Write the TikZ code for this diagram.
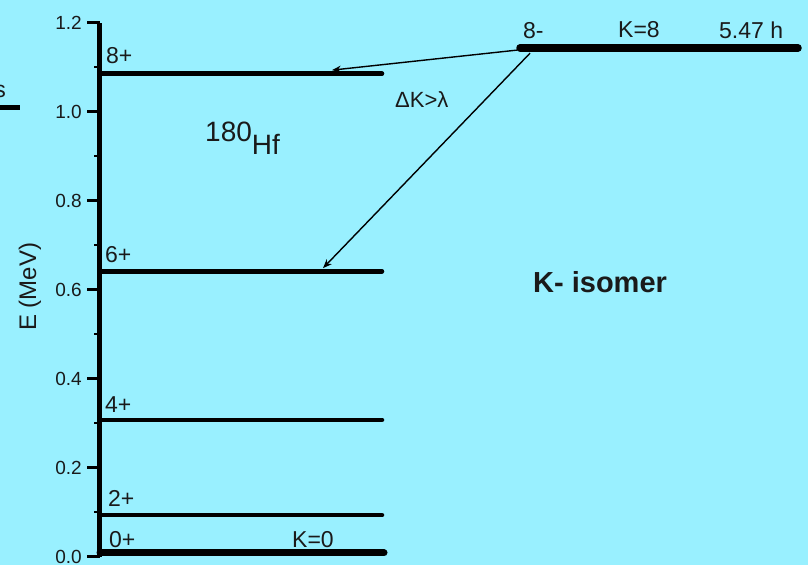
\documentclass[tikz,border=0pt]{standalone}
\usepackage{fontspec}
\setmainfont{Liberation Sans}
\usetikzlibrary{arrows.meta, positioning, calc}
\definecolor{hfSky}{HTML}{99F0FF}
\definecolor{hfInk}{HTML}{1A1A1A}
\newcommand{\fsz}[1]{\fontsize{#1}{#1}\selectfont}
\tikzset{
  level/.style={draw=black, line width=4.5pt, line cap=round},
  gslevel/.style={level, line width=7pt},
  isolevel/.style={level, line width=7.5pt},
  axisline/.style={draw=black, line width=4.5pt},
  majtick/.style={draw=black, line width=3pt},
  mintick/.style={draw=black, line width=2.5pt},
  ticklbl/.style={font=\fsz{19}, text=hfInk, anchor=east, inner sep=0pt},
  lvllbl/.style={font=\fsz{23}, text=hfInk, anchor=base west, inner sep=0pt},
  decay/.style={-{Stealth[length=9pt, width=7pt]}, line width=1.4pt, draw=black},
}
\begin{document}
\begin{tikzpicture}[x=1pt, y=445pt]
  \useasboundingbox (0,-0.0191) rectangle (808,1.2506);
  \clip (0,-0.0191) rectangle (808,1.2506);
  \fill[hfSky] (0,-0.0191) rectangle (808,1.2506);

  % energy axis
  \draw[axisline] (99.5,-0.001) -- (99.5,1.2);
  \foreach \e in {0.0,0.2,0.4,0.6,0.8,1.0,1.2} {
    \draw[majtick] (87,\e) -- (99.5,\e);
    \node[ticklbl] (t\e) at (82,\e) {\e};
  }
  \foreach \e in {0.1,0.3,0.5,0.7,0.9,1.1}
    \draw[mintick] (94,\e) -- (99.5,\e);
  \node[font=\fsz{24}, text=hfInk, rotate=90] (ylab) at (30,0.606) {E (MeV)};

  % cut-off piece at the left edge
  \draw[line width=5pt] (-5,1.0101) -- (20,1.0101);
  \node[lvllbl, anchor=base east] (cut) at (6,1.0326) {s};

  % ground band of 180Hf
  \draw[gslevel] (100,0.008) -- (384,0.008);
  \draw[level] (100,0.093) -- (382,0.093);
  \draw[level] (100,0.307) -- (382,0.307);
  \draw[level] (100,0.641) -- (382,0.641);
  \draw[level] (100,1.085) -- (382,1.085);
  \node[lvllbl] (l0) at (109,0.0202) {0+};
  \node[lvllbl] (lk0) at (292,0.0202) {K=0};
  \node[lvllbl] (l2) at (108,0.1135) {2+};
  \node[lvllbl] (l4) at (105,0.3247) {4+};
  \node[lvllbl] (l6) at (105,0.6596) {6+};
  \node[lvllbl] (l8) at (106,1.109) {8+};

  % K-isomer
  \draw[isolevel] (520,1.143) -- (798,1.143);
  \node[lvllbl] (li) at (523,1.165) {8-};
  \node[lvllbl] (lk8) at (618,1.1674) {K=8};
  \node[lvllbl] (lt) at (719,1.165) {5.47 h};

  \node[font=\fsz{28}, text=hfInk, anchor=base west, inner sep=0pt] (hf) at (205,0.9315)
    {180\raisebox{-13pt}{Hf}};
  \node[lvllbl, font=\fsz{22}] (dk) at (395,1.0079) {ΔK>λ};
  \node[font=\fsz{29}\bfseries, text=hfInk, anchor=base west, inner sep=0pt] (kiso) at (533,0.594)
    {K- isomer};

  % decays out of the isomer
  \coordinate (isoA) at (517,1.138);
  \coordinate (isoB) at (530,1.131);
  \coordinate (g8) at (332,1.093);
  \coordinate (g6) at (323,0.648);
  \draw[decay] (isoA) -- (g8);
  \draw[decay] (isoB) -- (g6);
\end{tikzpicture}
\end{document}
